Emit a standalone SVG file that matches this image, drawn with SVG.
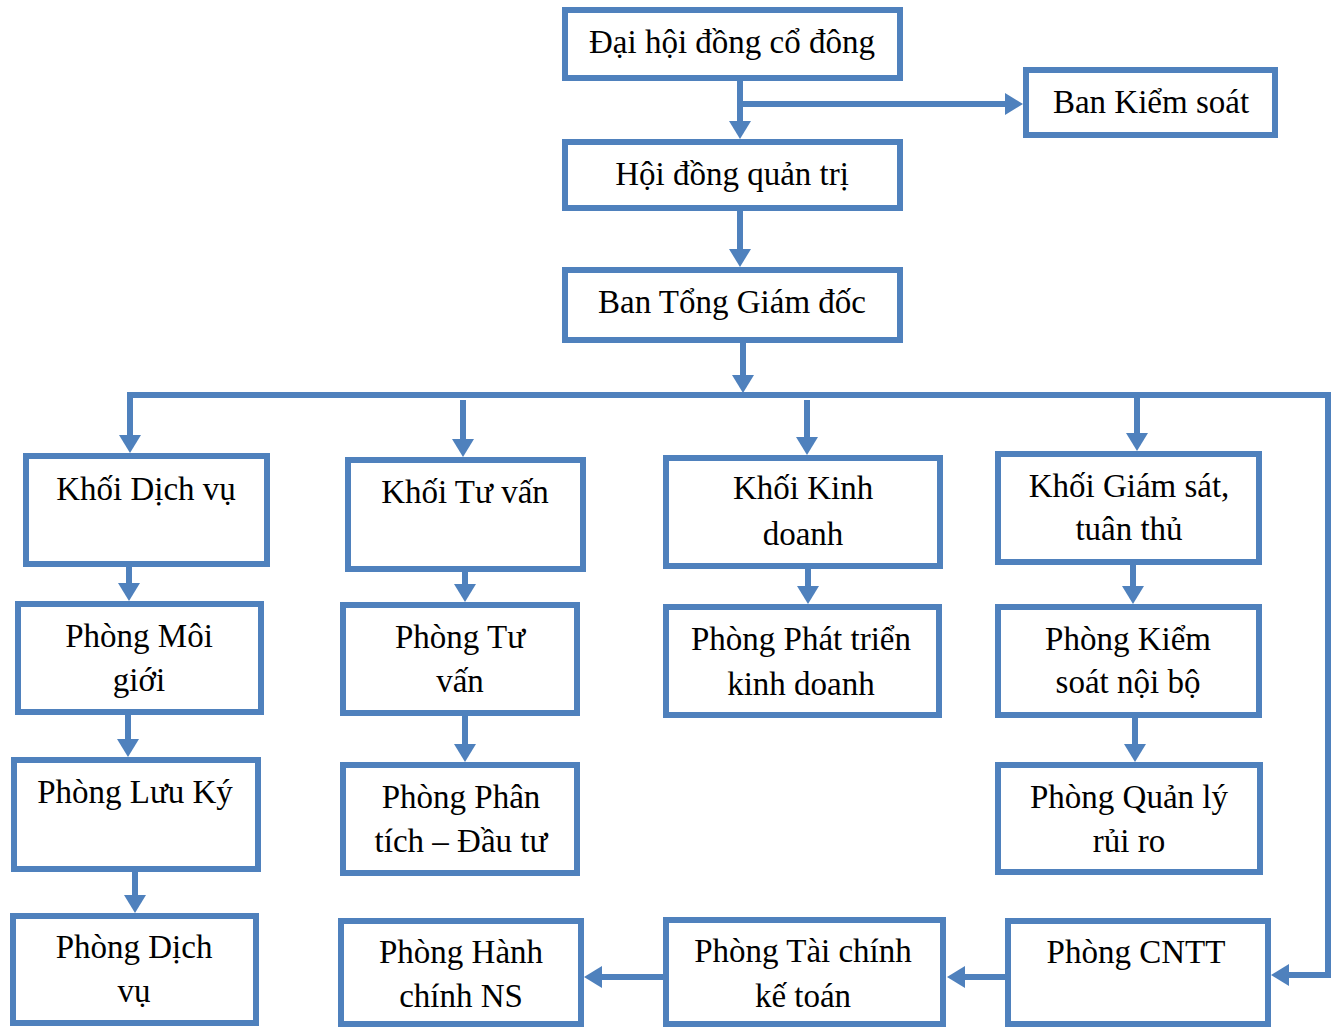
<svg xmlns="http://www.w3.org/2000/svg" width="1333" height="1027" viewBox="0 0 1333 1027">
<style>
.box{fill:#fff;stroke:#4F81BD;stroke-width:6}
.t{font-family:"Liberation Serif","Times New Roman",serif;font-size:33px;fill:#000;text-anchor:middle}
.c{fill:none;stroke:#4F81BD;stroke-width:6;stroke-linejoin:miter}
</style>
<defs>
<marker id="ah" markerUnits="userSpaceOnUse" markerWidth="20" markerHeight="22" refX="1" refY="11" orient="auto">
<path d="M0,0 L18,11 L0,22 Z" fill="#4F81BD"/>
</marker>
</defs>
<rect width="1333" height="1027" fill="#fff"/>
<g id="connectors">
<path class="c" d="M740,81 V122" marker-end="url(#ah)"/>
<path class="c" d="M740,104 H1006" marker-end="url(#ah)"/>
<path class="c" d="M740,211 V250" marker-end="url(#ah)"/>
<path class="c" d="M743,343 V376" marker-end="url(#ah)"/>
<path class="c" d="M127,395 H1328 V975 H1288" marker-end="url(#ah)"/>
<path class="c" d="M130,392 V436" marker-end="url(#ah)"/>
<path class="c" d="M463,400 V440" marker-end="url(#ah)"/>
<path class="c" d="M807,400 V438" marker-end="url(#ah)"/>
<path class="c" d="M1137,395 V434" marker-end="url(#ah)"/>
<path class="c" d="M129,567 V584" marker-end="url(#ah)"/>
<path class="c" d="M128,715 V740" marker-end="url(#ah)"/>
<path class="c" d="M135,872 V896" marker-end="url(#ah)"/>
<path class="c" d="M465,572 V585" marker-end="url(#ah)"/>
<path class="c" d="M465,716 V745" marker-end="url(#ah)"/>
<path class="c" d="M808,569 V587" marker-end="url(#ah)"/>
<path class="c" d="M1133,565 V587" marker-end="url(#ah)"/>
<path class="c" d="M1135,718 V745" marker-end="url(#ah)"/>
<path class="c" d="M1005,977 H964" marker-end="url(#ah)"/>
<path class="c" d="M663,977 H601" marker-end="url(#ah)"/>
</g>
<g id="dhcd"><rect class="box" x="565" y="10" width="335" height="68"/><text class="t" x="732" y="53">Đại hội đồng cổ đông</text></g>
<g id="bks"><rect class="box" x="1026" y="70" width="249" height="65"/><text class="t" x="1151" y="113">Ban Kiểm soát</text></g>
<g id="hdqt"><rect class="box" x="565" y="142" width="335" height="66"/><text class="t" x="732" y="185">Hội đồng quản trị</text></g>
<g id="btgd"><rect class="box" x="565" y="270" width="335" height="70"/><text class="t" x="732" y="313">Ban Tổng Giám đốc</text></g>
<g id="khoi-dv"><rect class="box" x="26" y="456" width="241" height="108"/><text class="t" x="146" y="500">Khối Dịch vụ</text></g>
<g id="p-moigioi"><rect class="box" x="18" y="604" width="243" height="108"/><text class="t" x="139" y="647">Phòng Môi</text><text class="t" x="139" y="691">giới</text></g>
<g id="p-luuky"><rect class="box" x="14" y="760" width="244" height="109"/><text class="t" x="135" y="803">Phòng Lưu Ký</text></g>
<g id="p-dichvu"><rect class="box" x="13" y="916" width="243" height="107"/><text class="t" x="134" y="958">Phòng Dịch</text><text class="t" x="134" y="1002">vụ</text></g>
<g id="khoi-tv"><rect class="box" x="348" y="460" width="235" height="109"/><text class="t" x="465" y="503">Khối Tư vấn</text></g>
<g id="p-tuvan"><rect class="box" x="343" y="605" width="234" height="108"/><text class="t" x="460" y="648">Phòng Tư</text><text class="t" x="460" y="692">vấn</text></g>
<g id="p-phantich"><rect class="box" x="343" y="765" width="234" height="108"/><text class="t" x="461" y="808">Phòng Phân</text><text class="t" x="461" y="852">tích – Đầu tư</text></g>
<g id="p-hanhchinh"><rect class="box" x="341" y="921" width="240" height="103"/><text class="t" x="461" y="963">Phòng Hành</text><text class="t" x="461" y="1007">chính NS</text></g>
<g id="khoi-kd"><rect class="box" x="666" y="458" width="274" height="108"/><text class="t" x="803" y="499">Khối Kinh</text><text class="t" x="803" y="545">doanh</text></g>
<g id="p-ptkd"><rect class="box" x="666" y="607" width="273" height="108"/><text class="t" x="801" y="650">Phòng Phát triển</text><text class="t" x="801" y="695">kinh doanh</text></g>
<g id="p-taichinh"><rect class="box" x="666" y="920" width="277" height="104"/><text class="t" x="803" y="962">Phòng Tài chính</text><text class="t" x="803" y="1007">kế toán</text></g>
<g id="khoi-gs"><rect class="box" x="998" y="454" width="261" height="108"/><text class="t" x="1129" y="497">Khối Giám sát,</text><text class="t" x="1129" y="540">tuân thủ</text></g>
<g id="p-ksnb"><rect class="box" x="998" y="607" width="261" height="108"/><text class="t" x="1128" y="650">Phòng Kiểm</text><text class="t" x="1128" y="693">soát nội bộ</text></g>
<g id="p-qlrr"><rect class="box" x="998" y="765" width="262" height="107"/><text class="t" x="1129" y="808">Phòng Quản lý</text><text class="t" x="1129" y="852">rủi ro</text></g>
<g id="p-cntt"><rect class="box" x="1008" y="921" width="260" height="103"/><text class="t" x="1136" y="963">Phòng CNTT</text></g>
</svg>
